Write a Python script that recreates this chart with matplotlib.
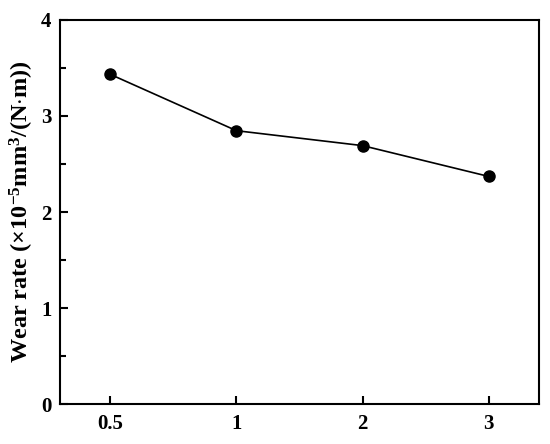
import matplotlib
matplotlib.use("Agg")
import matplotlib.pyplot as plt
from matplotlib.ticker import MultipleLocator

# data
categories = ["0.5", "1", "2", "3"]
wear_rate = [3.43, 2.845, 2.69, 2.37]

plt.rcParams["font.family"] = "Liberation Serif"
plt.rcParams["font.weight"] = "bold"
plt.rcParams["mathtext.fontset"] = "custom"
plt.rcParams["mathtext.rm"] = "Liberation Serif:bold"
plt.rcParams["mathtext.bf"] = "Liberation Serif:bold"
plt.rcParams["mathtext.default"] = "bf"

fig = plt.figure(figsize=(5.5, 4.44), dpi=100)
ax = fig.add_axes([0.109, 0.089, 0.871, 0.867])

xs = list(range(len(categories)))
ax.plot(xs, wear_rate, color="black", lw=1.2, marker="o", ms=8)

ax.set_xlim(-0.4, 3.4)
ax.set_ylim(0, 4)
ax.set_xticks(xs)
ax.set_xticklabels(categories)
ax.yaxis.set_major_locator(MultipleLocator(1))
ax.yaxis.set_minor_locator(MultipleLocator(0.5))

ax.tick_params(which="both", direction="in", width=1.5, labelsize=15)
ax.tick_params(which="major", length=6)
ax.tick_params(which="minor", length=4)
ax.tick_params(axis="x", pad=7)
ax.tick_params(axis="y", pad=6)
for s in ax.spines.values():
    s.set_linewidth(1.5)

ax.set_ylabel(r"Wear rate ($\times$10$^{-5}$mm$^3$/(N$\cdot$m))", fontsize=17.5, fontweight="bold", labelpad=4)

fig.savefig("out.png", dpi=100)
